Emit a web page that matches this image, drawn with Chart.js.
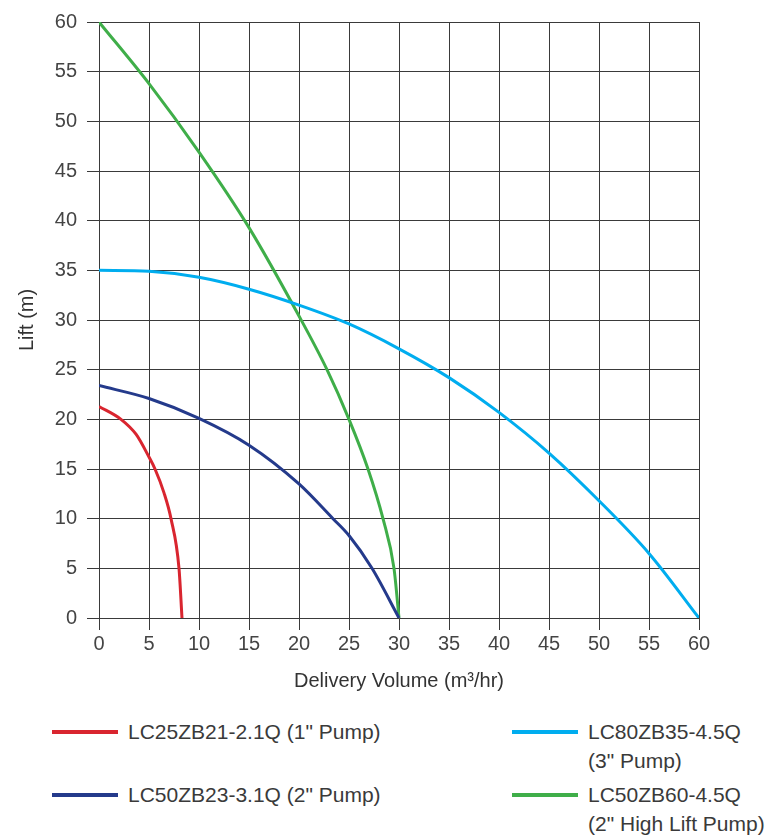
<!DOCTYPE html>
<html>
<head>
<meta charset="utf-8">
<script src="https://cdn.jsdelivr.net/npm/chart.js@4"></script>
<style>
  body { margin: 0; background: #fff; }
  #wrap { position: relative; width: 774px; height: 836px; font-family: 'Liberation Sans', Arial, sans-serif; color: #3a3a3a; }
  #chart-box { position: absolute; left: 0; top: 0; width: 774px; height: 700px; }
  .leg { position: absolute; font-size: 21px; line-height: 29px; }
  .leg span { position: absolute; left: 0; top: 13px; width: 66px; height: 4px; }
  .leg div { position: absolute; left: 76px; top: 0; white-space: nowrap; }
</style>
</head>
<body>
<div id="wrap">
  <div id="chart-box"><canvas id="line-chart" width="774" height="700"></canvas></div>
  <div id="legend"></div>
</div>
<script>
var seriesNames = ['LC25ZB21-2.1Q (1" Pump)', 'LC50ZB23-3.1Q (2" Pump)', 'LC80ZB35-4.5Q (3" Pump)', 'LC50ZB60-4.5Q (2" High Lift Pump)'];
var legendLines = [['LC25ZB21-2.1Q (1" Pump)'], ['LC50ZB23-3.1Q (2" Pump)'], ['LC80ZB35-4.5Q', '(3" Pump)'], ['LC50ZB60-4.5Q', '(2" High Lift Pump)']];
var colori = ['#d9252f', '#243a8b', '#00adef', '#3fae49'];

// delivery volume (m3/hr) and lift (m)
var q1 = [0, 2.2, 3.7, 5, 5.6, 6.5, 7.2, 8.0, 8.3];
var h1 = [21.3, 20.0, 18.5, 16.2, 15.0, 12.6, 10.0, 5.0, 0];
var q2 = [0, 5, 10, 15, 20, 23.4, 25, 27.3, 30.0];
var h2 = [23.4, 22.1, 20.1, 17.4, 13.5, 10.0, 8.3, 5.0, 0];
var q3 = [0, 5, 10, 15, 20, 25, 30, 35, 40, 45, 50, 55, 60];
var h3 = [35.0, 34.9, 34.3, 33.1, 31.5, 29.6, 27.1, 24.2, 20.7, 16.6, 11.8, 6.5, 0];
var q4 = [0, 5, 10, 15, 20, 22.8, 25, 26.9, 28.4, 29.5, 30.0];
var h4 = [60, 53.8, 46.9, 39.3, 30.4, 25.0, 20.0, 15.0, 10.0, 5.0, 0];

var xTicks = [0, 5, 10, 15, 20, 25, 30, 35, 40, 45, 50, 55, 60];
var yTicks = [0, 5, 10, 15, 20, 25, 30, 35, 40, 45, 50, 55, 60];

function punti(q, h) {
    return q.map(function(v, i) { return {x: v, y: h[i]}; });
}

var serie = [punti(q1, h1), punti(q2, h2), punti(q3, h3), punti(q4, h4)];
var fontTick = {family: "'Liberation Sans', Arial, sans-serif", size: 20};

var lineChart = new Chart(document.getElementById('line-chart'), {
    type: 'scatter',
    data: {
        datasets: serie.map(function(d, i) {
            return {
                label: seriesNames[i],
                data: d,
                showLine: true,
                borderColor: colori[i],
                backgroundColor: colori[i],
                borderWidth: 3,
                pointRadius: 0,
                cubicInterpolationMode: 'monotone'
            };
        })
    },
    options: {
        responsive: false,
        animation: false,
        layout: {padding: {top: 18, right: 75, left: 0, bottom: 0}},
        plugins: {legend: {display: false}, tooltip: {enabled: false}},
        scales: {
            x: {
                type: 'linear', min: 0, max: 60,
                afterBuildTicks: function(s) { s.ticks = xTicks.map(function(v) { return {value: v}; }); },
                afterFit: function(s) { s.height = 82; },
                grid: {color: '#3a3a3a', lineWidth: 1, tickLength: 12},
                border: {color: '#3a3a3a'},
                ticks: {color: '#444', font: fontTick, padding: 2, maxRotation: 0},
                title: {display: true, text: 'Delivery Volume (m³/hr)', color: '#333', font: fontTick, padding: {top: 4, bottom: 7}}
            },
            y: {
                type: 'linear', min: 0, max: 60,
                afterBuildTicks: function(s) { s.ticks = yTicks.map(function(v) { return {value: v}; }); },
                afterFit: function(s) { s.width = 99; },
                grid: {color: '#3a3a3a', lineWidth: 1, tickLength: 12},
                border: {color: '#3a3a3a'},
                ticks: {color: '#444', font: fontTick, padding: 10},
                title: {display: true, text: 'Lift (m)', color: '#333', font: fontTick, padding: {top: 15, bottom: 0}}
            }
        }
    }
});

// legenda in due colonne sotto il grafico
var posLeg = [[52, 717], [52, 780], [512, 717], [512, 780]];
var legendBox = document.getElementById('legend');
legendLines.forEach(function(righe, i) {
    var el = document.createElement('div');
    el.className = 'leg';
    el.style.left = posLeg[i][0] + 'px';
    el.style.top = posLeg[i][1] + 'px';
    var sw = document.createElement('span');
    sw.style.background = colori[i];
    el.appendChild(sw);
    var t = document.createElement('div');
    t.innerHTML = righe.map(function(r) { return r.replace(/"/g, '&quot;'); }).join('<br>');
    el.appendChild(t);
    legendBox.appendChild(el);
});
</script>
</body>
</html>
